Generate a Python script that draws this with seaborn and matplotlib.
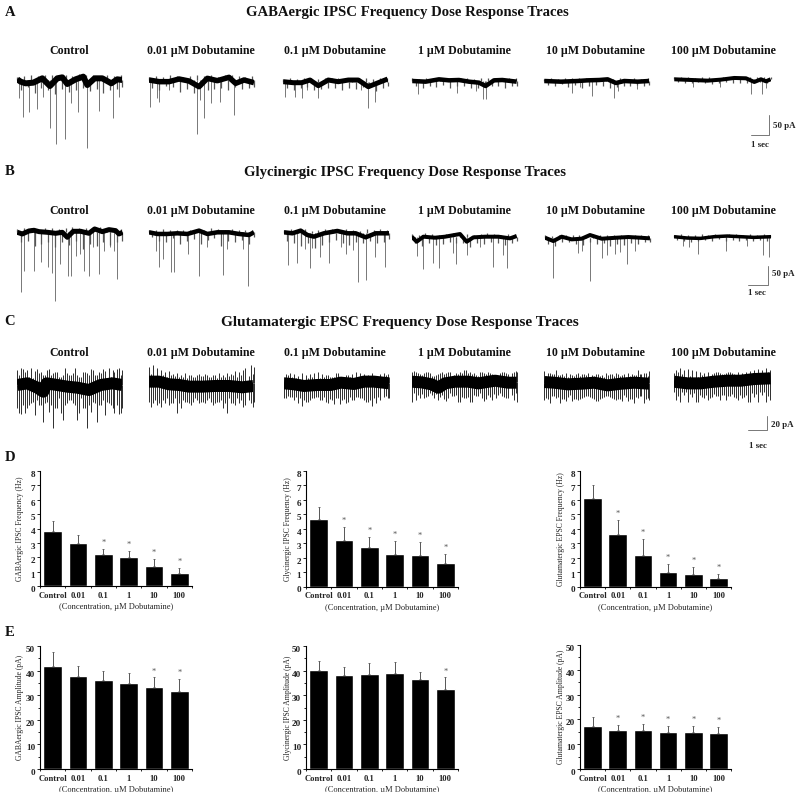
import numpy as np
import pandas as pd
import matplotlib
matplotlib.use("Agg")
import matplotlib.pyplot as plt
import seaborn as sns

sns.set_theme(style="white")
plt.rcParams['font.family'] = ['Liberation Serif', 'DejaVu Serif']
plt.rcParams['font.weight'] = 'bold'

W, H = 800, 797
doses = ['Control', '0.01', '0.1', '1', '10', '100']
trace_names = ['Control', '0.01 µM Dobutamine', '0.1 µM Dobutamine',
               '1 µM Dobutamine', '10 µM Dobutamine', '100 µM Dobutamine']

# bar values (mean and top of the error bar)
d1_mean = [3.83, 3.0, 2.23, 2.0, 1.42, 0.93]
d1_top = [4.5, 3.57, 2.6, 2.46, 1.88, 1.23]
d1_star = [2, 3, 4, 5]
d2_mean = [4.69, 3.24, 2.71, 2.23, 2.18, 1.63]
d2_top = [5.5, 4.09, 3.4, 3.13, 3.06, 2.25]
d2_star = [1, 2, 3, 4, 5]
d3_mean = [6.16, 3.66, 2.16, 1.01, 0.87, 0.6]
d3_top = [7.03, 4.6, 3.26, 1.54, 1.33, 0.85]
d3_star = [1, 2, 3, 4, 5]
e1_mean = [41.8, 38.0, 36.0, 35.1, 33.5, 31.6]
e1_top = [47.7, 42.0, 40.0, 39.2, 37.2, 36.4]
e1_star = [4, 5]
e2_mean = [40.3, 38.2, 38.6, 38.9, 36.4, 32.7]
e2_top = [44.0, 41.6, 43.2, 43.6, 39.6, 37.2]
e2_star = [5]
e3_mean = [17.4, 15.8, 15.7, 15.0, 15.1, 14.7]
e3_top = [21.0, 17.7, 18.1, 17.2, 17.3, 16.9]
e3_star = [1, 2, 3, 4, 5]

# traces: 58.5 sweep units = 1 sec, 1.2 units = 1 pA in rows A and B
a_base_t = [[0, 10, 25, 48, 75, 98, 120, 135, 150, 175, 198, 210, 232, 255, 282, 300, 315],
            [0, 30, 60, 90, 120, 150, 175, 205, 240, 260, 285, 315],
            [0, 30, 55, 80, 105, 135, 165, 195, 225, 255, 280, 313],
            [0, 40, 80, 110, 140, 170, 200, 220, 245, 270, 313],
            [0, 50, 100, 130, 165, 190, 215, 240, 280, 314],
            [0, 50, 100, 140, 180, 215, 240, 260, 275, 289]]
a_base_v = [[2, -5, -10, -8, 5, -18, 5, 8, -12, 2, 10, -15, 5, 5, -10, 2, 0],
            [0, -5, -5, 3, -3, -20, 5, -2, 8, -10, 0, -8],
            [0, -3, -3, 5, -12, 5, 0, 5, 5, -15, -5, 8],
            [0, -2, 5, 2, 3, -2, -5, -15, 2, 3, -2],
            [0, -2, 0, 2, 3, 5, -6, 0, -2, 0],
            [0, -2, -4, -1, 4, 3, -8, 0, -6, 0]]
a_spike_t = [[5, 18, 34, 58, 76, 98, 117, 143, 160, 182, 209, 245, 287, 306],
             [2, 25, 31, 61, 143, 153, 166, 185, 213, 256],
             [5, 35, 56, 70, 105, 232, 255, 276],
             [16, 135, 191, 211, 221],
             [84, 107, 144, 209, 222, 277],
             [57, 137, 229, 264, 274]]
a_spike_v = [[-55, -112, -95, -88, -50, -145, -193, -178, -70, -95, -205, -92, -115, -50],
             [-80, -55, -65, -30, -162, -60, -115, -70, -65, -105],
             [-45, -45, -50, -25, -50, -25, -80, -60],
             [-40, -35, -30, -55, -55],
             [-35, -18, -45, -52, -30, -25],
             [-22, -22, -45, -45, -25]]

fringe_t = [0, 10, 21, 31, 41, 52, 62, 72, 83, 93, 103, 114, 124, 134, 145, 155,
            165, 176, 186, 196, 207, 217, 227, 238, 248, 258, 269, 279, 289, 300, 310, 315]
a_fringe_v = [[10, -30, 12, -22, 14, -38, 12, -25, 15, -30, 14, -42, 10, -28, 16, -35, 12, -30, 18, -25, 14, -32, 16, -28, 12, -40, 15, -30, 12, -26, 14, -20],
              [10, -25, 12, -30, 10, -18, 14, -22, 12, -35, 10, -28, 12, -40, 14, -20, 12, -30, 15, -26, 10, -24, 14, -30, 16, -22, 12, -28, 10, -25, 12, -20],
              [8, -18, 10, -25, 9, -20, 12, -15, 10, -26, 8, -22, 12, -18, 10, -20, 12, -24, 8, -18, 10, -22, 12, -15, 10, -20, 8, -28, 12, -18, 10, -14],
              [8, -16, 6, -20, 10, -14, 8, -18, 9, -12, 10, -20, 8, -16, 9, -14, 8, -20, 6, -22, 10, -18, 8, -14, 9, -16, 8, -20, 10, -15, 8, -16],
              [7, -12, 8, -14, 6, -10, 8, -18, 9, -12, 8, -20, 9, -15, 8, -12, 10, -16, 9, -20, 6, -18, 8, -14, 7, -15, 8, -12, 7, -16, 8, -12],
              [6, -8, 7, -10, 6, -12, 5, -9, 7, -10, 6, -14, 5, -12, 6, -9, 7, -11, 8, -10, 7, -12, 6, -9, 7, -8, 8, -10, 6]]

b_base_t = [[0, 15, 35, 50, 65, 90, 115, 135, 150, 168, 190, 215, 232, 255, 275, 295, 305, 316],
            [0, 25, 55, 85, 115, 150, 175, 205, 240, 270, 300, 315],
            [0, 25, 50, 70, 90, 120, 160, 190, 215, 245, 275, 315],
            [0, 15, 35, 70, 100, 145, 165, 185, 220, 260, 295, 315],
            [0, 25, 50, 80, 110, 135, 170, 215, 250, 285, 315],
            [0, 40, 80, 120, 160, 200, 240, 292]]
b_base_v = [[0, -5, 4, 6, 2, 0, -3, 0, -15, 3, 3, -3, 10, 2, 8, 5, -5, 0],
            [0, -5, -5, -3, -5, 5, -5, 0, 0, -5, -8, 0],
            [3, 0, 8, -5, -10, 0, 7, 0, 0, -12, 0, 0],
            [0, -15, 0, -3, 0, 8, -15, -2, 0, 0, -5, 2],
            [0, -10, 3, -5, -3, 8, -3, 0, 2, 0, -2],
            [0, -4, -5, 0, 2, 0, -2, 0]]
b_spike_t = [[10, 20, 51, 70, 93, 105, 114, 129, 151, 161, 176, 188, 200, 216, 228, 245, 260, 278, 290, 300],
             [22, 31, 43, 65, 75, 116, 151, 175, 221, 233, 281, 298],
             [11, 38, 63, 77, 83, 108, 136, 170, 186, 206, 223, 247, 274, 302],
             [15, 35, 63, 82, 125, 133, 166, 205, 243, 275, 287],
             [23, 100, 110, 135, 170, 187, 210, 225, 247, 270],
             [28, 46, 73, 155, 220, 268, 286]]
b_spike_v = [[-178, -115, -115, -88, -105, -122, -205, -95, -130, -130, -70, -65, -115, -130, -45, -125, -55, -45, -55, -140],
             [-55, -103, -80, -118, -120, -65, -130, -45, -128, -50, -50, -160],
             [-95, -88, -48, -105, -45, -70, -90, -40, -62, -50, -145, -140, -70, -100],
             [-58, -98, -78, -95, -50, -82, -55, -30, -90, -55, -95],
             [-120, -45, -40, -130, -62, -52, -50, -42, -78, -40],
             [-28, -30, -52, -42, -28, -55, -60]]
b_fringe_v = [[10, -30, 12, -25, 14, -40, 10, -35, 14, -28, 12, -45, 10, -30, 12, -38, 15, -25, 12, -50, 14, -35, 10, -42, 15, -30, 12, -38, 14, -30, 10, -25],
              [8, -15, 6, -25, 10, -30, 8, -18, 8, -35, 6, -25, 8, -20, 10, -35, 8, -22, 12, -18, 10, -40, 8, -25, 10, -30, 6, -22, 8, -35, 6, -15],
              [10, -22, 12, -30, 10, -38, 14, -28, 8, -45, 10, -35, 12, -25, 14, -20, 10, -30, 12, -35, 10, -25, 8, -28, 12, -22, 10, -30, 12, -25, 10, -18],
              [8, -20, 6, -28, 10, -18, 8, -25, 6, -22, 8, -15, 10, -18, 12, -20, 8, -30, 6, -18, 8, -22, 10, -16, 8, -20, 6, -24, 8, -18, 8, -14],
              [8, -18, 5, -25, 9, -12, 8, -14, 7, -18, 8, -22, 9, -14, 10, -20, 8, -16, 7, -24, 8, -18, 9, -22, 8, -15, 8, -20, 7, -14, 8, -12],
              [6, -10, 7, -12, 6, -15, 5, -12, 7, -10, 6, -12, 7, -8, 6, -14, 7, -10, 8, -12, 6, -9, 7, -14, 6, -10, 7, -12, 6]]

c_base_t = [[0, 30, 60, 78, 88, 120, 150, 180, 215, 250, 285, 315],
            [0, 30, 60, 90, 120, 160, 200, 240, 280, 313],
            [0, 30, 60, 100, 140, 170, 210, 240, 270, 315],
            [0, 30, 60, 80, 100, 130, 170, 200, 250, 290, 315],
            [0, 30, 70, 110, 150, 190, 230, 270, 315],
            [0, 40, 80, 120, 160, 200, 240, 290]]
c_base_v = [[0, 5, -8, -20, 5, 0, -5, -8, -15, 0, 5, 0],
            [5, 5, -3, -5, -10, -10, -8, -8, -12, -8],
            [0, -3, -8, -5, -5, 2, -2, 5, 5, 0],
            [0, -2, -8, -18, -5, 0, 0, -5, 3, -3, -3],
            [2, 0, -5, -3, 0, -8, -3, 0, -3],
            [0, -5, -5, 0, 3, 3, 8, 10]]
c_up_t = [0, 12, 24, 36, 48, 60, 72, 84, 96, 108, 120, 132, 144, 156,
          168, 180, 192, 204, 216, 228, 240, 252, 264, 276, 288, 300, 312]
c_down_t = [6, 18, 30, 42, 54, 66, 78, 90, 102, 114, 126, 138, 150, 162,
            174, 186, 198, 210, 222, 234, 246, 258, 270, 282, 289, 306, 315]
c_up_v = [[45, 50, 40, 25, 20, 48, 40, 30, 48, 35, 40, 25, 50, 30, 35, 30, 25, 40, 30, 45, 30, 35, 42, 50, 45, 47, 30],
          [50, 55, 45, 40, 35, 38, 28, 30, 25, 30, 25, 20, 25, 22, 28, 18, 25, 15, 20, 18, 22, 25, 20, 25, 20, 22, 28],
          [20, 25, 18, 15, 12, 10, 15, 18, 12, 15, 18, 25, 20, 30, 20, 18, 25, 28, 35, 30, 28, 25, 30, 22, 28, 30, 28],
          [30, 28, 22, 25, 28, 18, 20, 25, 22, 30, 18, 25, 28, 36, 25, 22, 20, 28, 25, 30, 22, 18, 25, 28, 20, 25, 32],
          [35, 28, 25, 38, 22, 20, 18, 22, 25, 20, 25, 28, 22, 25, 20, 18, 22, 25, 28, 20, 25, 30, 25, 22, 25, 28, 20],
          [25, 30, 22, 15, 18, 12, 15, 20, 15, 18, 25, 28, 22, 25, 30, 22, 28, 25, 30, 32, 35, 38, 35, 42, 36]]
c_down_v = [[-85, -60, -70, -55, -90, -60, -110, -50, -60, -70, -40, -105, -55, -45, -60, -85, -70, -128, -80, -55, -60, -45, -50, -60, -85, -88, -70],
            [-70, -50, -60, -50, -45, -58, -45, -60, -50, -55, -65, -45, -60, -55, -50, -55, -60, -55, -75, -88, -60, -65, -60, -70, -65, -60, -55],
            [-45, -40, -50, -60, -68, -55, -50, -45, -40, -50, -55, -48, -62, -45, -50, -60, -40, -50, -42, -45, -55, -50, -45, -40, -42, -38, -45],
            [-35, -40, -38, -45, -35, -50, -55, -40, -58, -35, -42, -60, -45, -50, -62, -40, -42, -48, -52, -45, -38, -40, -42, -50, -48, -55, -62],
            [-45, -62, -40, -42, -50, -55, -38, -48, -52, -45, -40, -42, -48, -55, -45, -40, -42, -50, -48, -55, -42, -50, -62, -45, -40, -48, -52],
            [-55, -60, -40, -62, -45, -60, -40, -50, -55, -45, -42, -55, -40, -42, -38, -48, -40, -45, -60, -35, -38, -30, -32, -42, -30]]

fig = plt.figure(figsize=(W / 100, H / 100), dpi=100, facecolor='white')


def px_axes(left, top, right, bottom):
    return fig.add_axes([left / W, 1 - bottom / H, (right - left) / W, (bottom - top) / H])


def draw_trace(left, zero_y, base_t, base_v, spike_t, spike_v, band_px, spike_px=0.8,
               spike_color='#5a5a5a', fringe_v=None):
    # one sweep unit is a third of a pixel, in time and in current
    length = base_t[-1]
    ax = px_axes(left, zero_y - 25, left + length / 3, zero_y + 75)
    ax.axis('off')
    ax.patch.set_alpha(0)
    ax.vlines(spike_t, spike_v, 0, color=spike_color, lw=spike_px * 0.72, clip_on=False)
    if fringe_v is not None:
        ax.vlines(fringe_t[:len(fringe_v)], fringe_v, 0, color='#555555', lw=0.9, clip_on=False)
    sns.lineplot(x=base_t, y=base_v, ax=ax, color='black', lw=band_px * 0.72,
                 estimator=None, sort=False, legend=False, solid_capstyle='butt')
    ax.set_xlim(0, length)
    ax.set_ylim(-225, 75)
    ax.set_xlabel('')
    ax.set_ylabel('')


a_left = [17.3, 149, 283.3, 412.3, 544.3, 674.3]
a_zero = [80, 80, 81.7, 81, 81, 79.3]
a_band = [6, 5.5, 5, 4.5, 4.5, 4]
for i in range(6):
    draw_trace(a_left[i], a_zero[i], a_base_t[i], a_base_v[i], a_spike_t[i], a_spike_v[i],
               a_band[i], fringe_v=a_fringe_v[i])

b_left = [17.3, 149, 284, 411.7, 545, 674]
b_zero = [232.3, 232.3, 233.3, 236.7, 237.7, 236.7]
b_band = [5, 4.5, 4.5, 4, 4, 3.5]
for i in range(6):
    draw_trace(b_left[i], b_zero[i], b_base_t[i], b_base_v[i], b_spike_t[i], b_spike_v[i],
               b_band[i], fringe_v=b_fringe_v[i])

c_left = [17.3, 149, 284, 411.7, 544.3, 674]
c_zero = [385, 383.3, 383.3, 381.7, 382.7, 381.7]
for i in range(6):
    n_up = len(c_up_v[i])
    n_down = len(c_down_v[i])
    # the band is so dense that both limits are drawn on both time grids
    spike_t = c_up_t[:n_up] + c_down_t[:n_up] + c_down_t[:n_down] + c_up_t[:n_down]
    spike_v = c_up_v[i] + c_up_v[i][::-1] + c_down_v[i] + c_down_v[i][::-1]
    draw_trace(c_left[i], c_zero[i], c_base_t[i], c_base_v[i],
               spike_t, spike_v, 12, spike_px=1.0, spike_color='#333333')


def draw_bars(rect, mean, top, star, ymax, ystep, ylabel, label_px, minor=None):
    ax = px_axes(*rect)
    df = pd.DataFrame({'dose': doses, 'value': mean})
    sns.barplot(data=df, x='dose', y='value', color='black', saturation=1, width=0.74,
                errorbar=None, ax=ax)
    pos = np.arange(len(mean))
    lower = np.zeros(len(mean))
    upper = np.array(top) - np.array(mean)
    ax.errorbar(pos, mean, yerr=[lower, upper], fmt='none', ecolor='#555555',
                elinewidth=0.7, capsize=1, capthick=0.6)
    for i in star:
        ax.annotate('*', (i, top[i]), xytext=(0, 1.5), textcoords='offset points',
                    ha='center', va='bottom', fontsize=6, color='#555555', fontweight='normal')
    ax.set_xlim(-0.5, 5.5)
    ax.set_ylim(0, ymax)
    ax.set_yticks(np.arange(0, ymax + 1, ystep))
    if minor:
        ax.set_yticks(np.arange(0, ymax + 1, minor), minor=True)
    ax.set_xticks(np.arange(-0.5, 6, 1), minor=True)
    ax.tick_params(axis='x', which='major', length=0, pad=4, labelsize=6.2, colors='#222222')
    ax.tick_params(axis='x', which='minor', length=1.5, width=0.6, bottom=True, color='black')
    ax.tick_params(axis='y', which='major', length=2, width=0.7, left=True, pad=1.5, labelsize=6.6, colors='#222222')
    ax.tick_params(axis='y', which='minor', length=1.5, width=0.6, left=True, color='black')
    for lab in ax.get_yticklabels():
        lab.set_verticalalignment('top')
    for side in ['top', 'right']:
        ax.spines[side].set_visible(False)
    for side in ['left', 'bottom']:
        ax.spines[side].set_color('black')
        ax.spines[side].set_linewidth(0.8)
    ax.set_ylabel(ylabel, fontsize=5.5, color='#222222')
    ax.yaxis.set_label_coords(-label_px / (rect[2] - rect[0]), 0.5)
    ax.set_xlabel('(Concentration, µM Dobutamine)', fontsize=6, color='#222222', labelpad=2.5)
    ax.patch.set_alpha(0)
    return ax


draw_bars((40, 471, 192, 586), d1_mean, d1_top, d1_star, 8, 1, 'GABAergic IPSC Frequency (Hz)', 16)
draw_bars((306, 471, 458, 586.5), d2_mean, d2_top, d2_star, 8, 1, 'Glycinergic IPSC Frequency (Hz)', 14.5)
draw_bars((580, 471, 731, 586.5), d3_mean, d3_top, d3_star, 8, 1, 'Glutamatergic EPSC Frequency (Hz)', 15)
draw_bars((40, 646, 192, 769), e1_mean, e1_top, e1_star, 50, 10, 'GABAergic IPSC Amplitude (pA)', 16, minor=5)
draw_bars((306, 646, 458, 769), e2_mean, e2_top, e2_star, 50, 10, 'Glycinergic IPSC Amplitude (pA)', 14.5, minor=5)
draw_bars((580, 645, 731, 769), e3_mean, e3_top, e3_star, 50, 10, 'Glutamatergic EPSC Amplitude (pA)', 15, minor=5)

# page-level text and the scale bars, in pixel coordinates
page = fig.add_axes([0, 0, 1, 1])
page.set_xlim(0, W)
page.set_ylim(H, 0)
page.axis('off')
page.patch.set_alpha(0)

for letter, y in zip('ABCDE', [12, 171, 321, 457, 632]):
    page.text(10, y, letter, fontsize=10.5, ha='center', va='center', color='#111111')

titles = ['GABAergic IPSC Frequency Dose Response Traces',
          'Glycinergic IPSC Frequency Dose Response Traces',
          'Glutamatergic EPSC Frequency Dose Response Traces']
title_size = [10.6, 10.6, 11]
for title, x, y, size in zip(titles, [407, 405, 400], [12, 172, 322], title_size):
    page.text(x, y, title, fontsize=size, ha='center', va='center', color='#111111')

name_x = [69, 201, 335, 464, 595, 723]
for y in [51, 211, 352.5]:
    for name, x in zip(trace_names, name_x):
        page.text(x, y, name, fontsize=8.6, ha='center', va='center', color='#111111')

bars = [(769, 115, 135, 751, '50 pA', 126, 760, 145),
        (768, 266, 285, 748, '50 pA', 274, 757, 293),
        (767, 416, 430, 748, '20 pA', 425, 758, 446)]
for x, y0, y1, x0, label, ly, sx, sy in bars:
    page.plot([x, x, x0], [y0, y1, y1], color='#777777', lw=0.7)
    page.text(x + 4, ly, label, fontsize=6.4, ha='left', va='center', color='#222222')
    page.text(sx, sy, '1 sec', fontsize=6.4, ha='center', va='center', color='#222222')

# the source figure is cut off just under the last row of axis titles
page.axhspan(791.5, H, color='white', zorder=5)

fig.savefig('out.png', dpi=100)
